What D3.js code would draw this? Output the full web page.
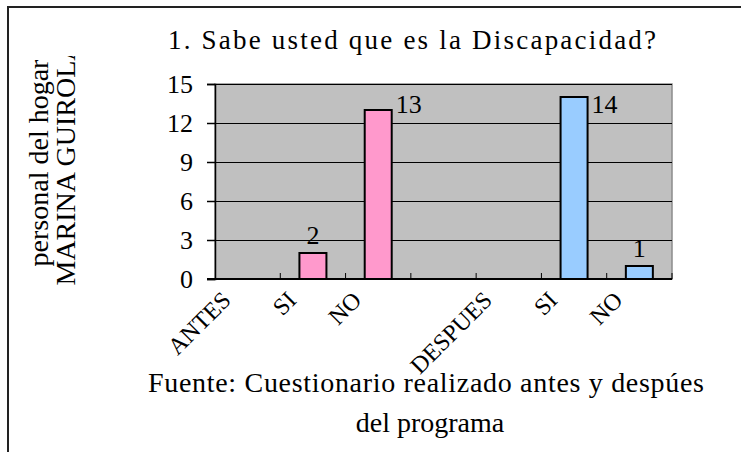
<!DOCTYPE html>
<html>
<head>
<meta charset="utf-8">
<script src="https://cdn.jsdelivr.net/npm/d3@7"></script>
<style>
  html, body { margin: 0; padding: 0; background: #fff; }
  svg { display: block; }
  svg text { font-family: "Liberation Serif", "Times New Roman", "DejaVu Serif", serif !important; fill: #000; }
</style>
</head>
<body>
<svg id="chart" width="741" height="452"></svg>
<script>
// ---- data ----
const categories = ["ANTES", "SI", "NO", "", "DESPUES", "SI", "NO"];
const antesValues = [null, 2, 13, null, null, null, null];
const despuesValues = [null, null, null, null, null, 14, 1];
const yTicks = [0, 3, 6, 9, 12, 15];
const titleText = "1. Sabe usted que es la  Discapacidad?";
const yTitleLines = ["personal del hogar", "MARINA GUIROLA"];
const captionLines = ["Fuente:  Cuestionario realizado antes y despúes", "del programa"];

// ---- layout ----
const W = 741, H = 452;
const FONT = '"Liberation Serif", "Times New Roman", "DejaVu Serif", serif';
const plot = { left: 215, right: 672, top: 84, bottom: 279 };
const colors = { antes: "#FF99CC", despues: "#99CCFF", plotBg: "#C0C0C0" };

const svg = d3.select("#chart");

// outer frame (clipped by window on right/bottom)
svg.append("path")
  .attr("d", `M8,${H} V7 H${W}`)
  .attr("fill", "none").attr("stroke", "#222").attr("stroke-width", 2);

const x = d3.scaleBand().domain(d3.range(categories.length))
  .range([plot.left, plot.right]).paddingInner(0).paddingOuter(0);
const y = d3.scaleLinear().domain([0, 15]).range([plot.bottom, plot.top]);

// plot background
svg.append("rect")
  .attr("x", plot.left).attr("y", plot.top)
  .attr("width", plot.right - plot.left).attr("height", plot.bottom - plot.top)
  .attr("fill", colors.plotBg).attr("stroke", "#8c8c8c").attr("stroke-width", 1.5);

// gridlines
svg.append("g").selectAll("line").data(yTicks.filter(d => d > 0)).join("line")
  .attr("x1", plot.left).attr("x2", plot.right)
  .attr("y1", d => Math.round(y(d)) + 0.5).attr("y2", d => Math.round(y(d)) + 0.5)
  .attr("stroke", "#000").attr("stroke-width", 1);

// bars
const barW = 27;
const bars = [];
categories.forEach((c, i) => {
  if (antesValues[i] != null) bars.push({ i, v: antesValues[i], color: colors.antes });
  if (despuesValues[i] != null) bars.push({ i, v: despuesValues[i], color: colors.despues });
});
svg.append("g").selectAll("rect").data(bars).join("rect")
  .attr("x", d => x(d.i) + x.bandwidth() / 2 - barW / 2)
  .attr("y", d => y(d.v))
  .attr("width", barW)
  .attr("height", d => y(0) - y(d.v))
  .attr("fill", d => d.color)
  .attr("stroke", "#000").attr("stroke-width", 2);

// y axis
const yAxis = d3.axisLeft(y).tickValues(yTicks).tickSize(8).tickPadding(14);
const gy = svg.append("g").attr("transform", `translate(${plot.left},0)`).call(yAxis)
  .attr("font-family", FONT);
gy.select(".domain").attr("stroke", "#000").attr("stroke-width", 1.5);
gy.selectAll(".tick line").attr("stroke", "#000").attr("stroke-width", 1.5);
gy.selectAll(".tick text")
  .style("font-size", "26px").attr("fill", "#000");

// x axis line with inside tick marks at category boundaries
svg.append("line")
  .attr("x1", plot.left - 8).attr("x2", plot.right)
  .attr("y1", plot.bottom).attr("y2", plot.bottom)
  .attr("stroke", "#000").attr("stroke-width", 2);
svg.append("g").selectAll("line").data(d3.range(1, categories.length + 1)).join("line")
  .attr("x1", d => x(d - 1) + x.bandwidth()).attr("x2", d => x(d - 1) + x.bandwidth())
  .attr("y1", plot.bottom).attr("y2", plot.bottom - 6)
  .attr("stroke", "#000").attr("stroke-width", 1);

// category labels rotated -45
svg.append("g").selectAll("text").data(categories.map((c, i) => ({ c, i }))).join("text")
  .attr("transform", d => `translate(${x(d.i) + x.bandwidth() / 2 - 21},${plot.bottom + 17}) rotate(-45)`)
  .attr("text-anchor", "end")
  .attr("dominant-baseline", "central")
  .style("font-size", "24px")
  .text(d => d.c);

// data labels
const labelFont = 26;
svg.append("g").selectAll("text").data(bars).join("text")
  .each(function (d) {
    const cx = x(d.i) + x.bandwidth() / 2;
    const sel = d3.select(this).style("font-size", labelFont + "px");
    const top = y(d.v);
    if (top - 8 - labelFont * 0.7 < plot.top) {
      sel.attr("x", cx + barW / 2 + 4).attr("y", plot.top + 29).attr("text-anchor", "start");
    } else {
      sel.attr("x", cx).attr("y", top - 9).attr("text-anchor", "middle");
    }
  })
  .text(d => d.v);

// title
svg.append("text")
  .attr("x", 412).attr("y", 49)
  .attr("text-anchor", "middle")
  .attr("textLength", 488).attr("lengthAdjust", "spacing")
  .style("font-size", "27px")
  .text(titleText);

// y title (two lines, rotated), clipped at top
svg.append("clipPath").attr("id", "ytclip")
  .append("rect").attr("x", 0).attr("y", 56).attr("width", 120).attr("height", 400);
const yt = svg.append("g").attr("clip-path", "url(#ytclip)")
  .append("text")
  .attr("transform", "translate(48,163) rotate(-90)")
  .attr("text-anchor", "middle")
  .style("font-size", "28px");
yt.selectAll("tspan").data(yTitleLines).join("tspan")
  .attr("x", 0).attr("dy", (d, i) => i === 0 ? 0 : 27)
  .text(d => d);

// caption
const cap = svg.append("text")
  .attr("y", 392)
  .attr("text-anchor", "middle")
  .style("font-size", "28px");
cap.selectAll("tspan").data(captionLines).join("tspan")
  .attr("x", (d, i) => i === 0 ? 426 : 430)
  .attr("dy", (d, i) => i === 0 ? 0 : 40)
  .attr("textLength", (d, i) => i === 0 ? 556 : null)
  .attr("lengthAdjust", "spacing")
  .text(d => d);
</script>
</body>
</html>
